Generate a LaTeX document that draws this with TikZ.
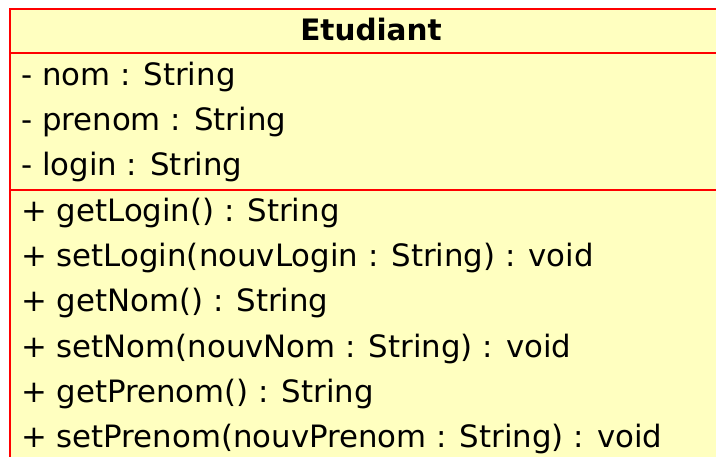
\documentclass[tikz,border=0pt]{standalone}
\usepackage{fontspec}
\setmainfont{DejaVu Sans}
\usepackage{xcolor}
\usepackage{tikz}

\definecolor{classfill}{RGB}{255,255,192}
\definecolor{classline}{RGB}{255,0,0}

\begin{document}
\begin{tikzpicture}[x=1pt,y=-1pt,
		member/.style={anchor=base west, inner sep=0pt, font=\fontsize{30.8}{36}\selectfont},
		classname/.style={anchor=base, inner sep=0pt, font=\fontsize{29.5}{36}\selectfont\bfseries},
		sep/.style={classline, line width=2.4pt}]
		\useasboundingbox (0,0) rectangle (716,457);
		\clip (0,0) rectangle (716,457);

		% class box and its compartments
		\draw[sep, fill=classfill] (10,9) rectangle (732,490);
		\draw[sep] (10,53) -- (732,53);
		\draw[sep] (10,190) -- (732,190);

		\node[classname] (name) at (371,41) {Etudiant};

		% attributes
		\node[member] (nom) at (21,86) {- nom : String};
		\node[member] (prenom) at (21,131) {- prenom : String};
		\node[member] (login) at (21,176) {- login : String};

		% operations
		\node[member] (getlogin) at (21,222) {+ getLogin() : String};
		\node[member] (setlogin) at (21,267) {+ setLogin(nouvLogin : String) : void};
		\node[member] (getnom) at (21,312) {+ getNom() : String};
		\node[member] (setnom) at (21,358) {+ setNom(nouvNom : String) : void};
		\node[member] (getprenom) at (21,403) {+ getPrenom() : String};
		\node[member] (setprenom) at (21,448) {+ setPrenom(nouvPrenom : String) : void};
	\end{tikzpicture}
\end{document}
